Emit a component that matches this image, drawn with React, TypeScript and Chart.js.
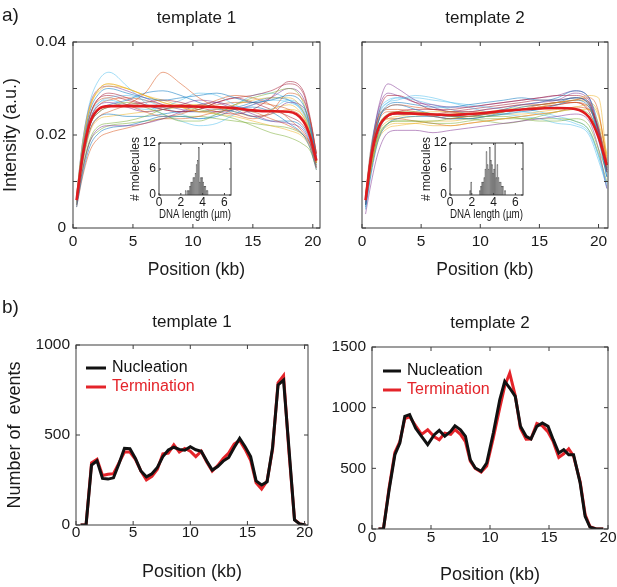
import React, { useEffect, useRef } from 'react';
import { Chart, registerables } from 'chart.js';

Chart.register(...registerables);

const FONT = "'Liberation Sans', Arial, Helvetica, sans-serif";
const TEXT = '#1a1a1a';
const FRAME = '#3c3c3c';
const MEAN_RED = '#e01b1f';
const EVENT_RED = '#e4242a';
const EVENT_BLACK = '#111111';
const MATLAB_COLORS = ['#0072BD', '#D95319', '#EDB120', '#7E2F8E', '#77AC30', '#4DBEEE', '#A2142F'];

// ---------- panel a: intensity profiles (values in units of 0.001 a.u.) ----------
const traceXTpl1 = [0.3, 0.8, 1.4, 2.2, 3, 4.5, 6, 7.5, 9, 10.5, 12, 13.5, 15, 16.5, 18, 19.2, 19.8, 20.3];
const meanTpl1 = [6, 15.5, 22.5, 25.7, 26.2, 26.2, 26.2, 26.2, 26.2, 26.1, 26, 25.8, 25.3, 25.1, 25, 23, 19.5, 14.5];
const tracesTpl1 = [
  [6, 17, 25, 29, 30, 29, 28, 27.5, 28, 28.5, 29, 28, 27, 27.5, 28.5, 26.5, 22, 15],
  [6.5, 15, 21, 24, 25, 26.5, 29, 33.5, 31, 28, 26, 24.5, 23.5, 25, 29, 27.5, 23, 16],
  [7, 18, 26, 29.5, 30.5, 30, 28.5, 27, 26, 25, 25.5, 26.5, 27.5, 28, 28, 25, 20, 14],
  [5, 12.5, 18.5, 21.5, 22, 22, 22.5, 23.5, 25, 26.5, 27, 26, 24.5, 23, 22.5, 21, 18, 13],
  [6, 15, 22, 25, 26, 27, 26, 24.5, 23, 23, 24.5, 26.5, 28, 29, 30, 27, 21, 14.5],
  [7, 18.5, 27, 32, 33.5, 30.5, 27, 24.5, 23, 22, 22.5, 24.5, 26.5, 27.5, 27, 25, 21, 15],
  [6, 15, 22, 25, 26, 26.5, 27, 27.5, 27, 26, 25, 24.5, 25.5, 28, 31.5, 29.5, 23.5, 16],
  [4.5, 11.5, 17.5, 20.5, 21.5, 22, 23, 24, 24, 23.5, 24, 25.5, 26, 25, 22.5, 20, 17, 12.5],
  [6, 16, 24, 27.5, 28, 26.5, 25, 24, 24.5, 26, 27.5, 28.5, 28, 26.5, 23.5, 20.5, 18, 14],
  [6.5, 17, 25.5, 30, 31, 30, 28.5, 27, 26, 25, 24.5, 24, 23, 22, 21, 19.5, 17, 12.5],
  [6, 15.5, 23, 26.5, 27, 26, 25, 25.5, 26.5, 27.5, 27, 25.5, 24, 24.5, 27, 26, 21.5, 15],
  [5, 12.5, 19, 22, 22.5, 23, 24, 25.5, 26, 25.5, 24.5, 23.5, 22, 20.5, 19.5, 18, 16.5, 13],
  [6.5, 16.5, 24, 27, 27.5, 26.5, 25.5, 26, 27.5, 29, 28.5, 26.5, 25, 25.5, 27.5, 25.5, 21, 15],
  [6, 16, 24, 28, 29, 28, 26.5, 25.5, 25, 25.5, 27, 28, 28.5, 29.5, 31, 29, 23, 16],
  [6, 15, 22, 25.5, 26.5, 27.5, 29, 29.5, 28.5, 27, 26, 26, 27, 28, 27.5, 25, 21, 14.5],
  [4.5, 11, 16.5, 19.5, 20.5, 21.5, 22.5, 23.5, 23.5, 24, 25, 25.5, 25, 23.5, 22, 20, 17.5, 13],
  [7, 18, 26, 30, 31, 30, 28.5, 27.5, 26.5, 26.5, 26, 25.5, 25, 25.5, 26.5, 24, 20, 14],
  [7, 18.5, 26.5, 30, 30.5, 29.5, 28, 26.5, 25.5, 25, 25, 25.5, 26.5, 28, 30, 28, 22.5, 15.5],
  [5, 12.5, 18.5, 21, 22, 22.5, 23, 23.5, 24, 24, 23.5, 23, 22.5, 22, 21.5, 20, 18, 13.5],
  [6, 15, 23, 27, 28, 28.5, 27.5, 26, 24.5, 23.5, 24.5, 26.5, 28.5, 29, 27.5, 24.5, 20, 14],
  [6.5, 16, 24, 28, 28.5, 27.5, 26.5, 25.5, 25, 25.5, 27, 28, 27, 25.5, 24, 22, 19, 14],
  [5.5, 14, 21, 24, 24.5, 24, 24, 24.5, 25, 25, 25.5, 25, 24, 23, 23, 21.5, 18.5, 13.5],
  [6, 15.5, 23, 26.5, 27.5, 28, 27.5, 26.5, 26, 26, 26.5, 27, 27, 26.5, 25.5, 23.5, 20, 14.5],
  [5.5, 13.5, 20.5, 23.5, 24, 24.5, 25, 25.5, 26, 26.5, 26, 25, 24, 24.5, 25.5, 24, 20, 14],
];

const traceXTpl2 = [0.3, 0.8, 1.4, 2.2, 3, 4.5, 6, 7.5, 9, 10.5, 12, 13.5, 15, 16.5, 18, 19.2, 20, 20.7];
const meanTpl2 = [6, 15.5, 21.5, 24.2, 24.7, 24.6, 24.4, 24.3, 24.5, 24.8, 25.2, 25.5, 25.7, 25.8, 25.6, 23.8, 19.5, 13.5];
const tracesTpl2 = [
  [5, 15, 23, 26.5, 27, 26.5, 26, 26, 26.5, 27, 27.5, 28, 27.5, 27.5, 28, 26.5, 19, 11],
  [7, 17, 23, 25, 25, 24.5, 24, 23.5, 24, 24.5, 25, 25.5, 26.5, 27, 27.5, 28, 25, 14],
  [6, 15, 21.5, 23.5, 24, 24.5, 25, 25, 24.5, 24.5, 25, 25.5, 26, 27, 27.5, 28.5, 28, 15],
  [5.5, 17, 26, 31, 30, 27.5, 26, 25, 25, 25.5, 26, 26.5, 27, 27.5, 29, 27.5, 21, 12],
  [6, 14, 20, 22.5, 23, 23, 23, 23.5, 24, 24, 24, 23.5, 23, 23, 23.5, 22, 17, 12],
  [6.5, 18, 25, 27.5, 28, 28, 27.5, 27, 26.5, 26, 25.5, 25, 24.5, 23.5, 22.5, 20.5, 15.5, 9.5],
  [5, 16, 24.5, 28.5, 28.5, 27, 25.5, 25.5, 26, 26.5, 27, 27.5, 28, 28.5, 28.5, 27, 20.5, 12],
  [4, 12, 19, 22.5, 23.5, 24, 24, 23.5, 23.5, 24, 24.5, 25, 25.5, 26.5, 27.5, 26, 20, 12],
  [7.5, 18, 24, 26, 26.5, 26, 25.5, 25, 25, 25.5, 26, 26.5, 26.5, 27, 27, 25.5, 21.5, 14],
  [6, 13.5, 19.5, 22, 22.5, 22.5, 22, 22, 22.5, 23, 23.5, 24, 24.5, 25, 25.5, 25.5, 22.5, 15.5],
  [3, 10, 16.5, 20.5, 21, 21, 20.5, 21, 21.5, 22, 22.5, 23, 23.5, 24, 24.5, 23, 17, 8.5],
  [6, 15.5, 22, 24.5, 25, 25, 24.5, 24, 23.5, 23, 22.5, 23, 24, 25, 25.5, 24.5, 20, 13],
  [5.5, 17, 24.5, 27, 27.5, 28.5, 28, 27, 26, 25, 24.5, 24, 23.5, 22.5, 22, 20, 14.5, 9],
  [6.5, 15, 21.5, 24, 24.5, 24.5, 24.5, 25, 25.5, 26, 26.5, 27, 27.5, 27.5, 28, 26.5, 21, 13],
  [5, 15, 23, 26, 26.5, 25.5, 24.5, 24, 24, 24.5, 25.5, 26.5, 27, 28, 29.5, 28, 22, 12.5],
  [6.5, 17, 23.5, 25.5, 25.5, 25, 24.5, 24, 24, 24.5, 25, 25.5, 26, 26.5, 27, 26, 21.5, 14.5],
  [5.5, 13, 19, 21.5, 22, 22.5, 23, 23, 23.5, 24, 24.5, 24.5, 25, 25.5, 26, 26.5, 24, 16],
  [6, 17, 25.5, 29, 28.5, 27, 26.5, 26, 26, 26.5, 27, 27.5, 28, 28.5, 29.5, 28, 21, 12.5],
  [5, 13, 19.5, 22.5, 23, 23, 22.5, 22.5, 23, 23.5, 23.5, 23.5, 23.5, 23.5, 23, 21, 16, 10],
  [6, 16, 24, 27, 28, 27.5, 26.5, 25.5, 24.5, 24, 24.5, 25.5, 25, 24, 23, 21, 15.5, 8.5],
  [6, 15, 21.5, 24, 25, 25.5, 25.5, 25, 24.5, 24.5, 25, 25.5, 26, 26.5, 27, 25, 19.5, 12.5],
  [4.5, 13, 20.5, 24, 24.5, 24.5, 24, 23.5, 23.5, 24, 25, 26, 26.5, 27, 28, 27, 20, 11],
  [7, 16.5, 22, 23.5, 23.5, 23, 22.5, 22, 22.5, 23, 23.5, 24, 24.5, 25, 26, 25.5, 21, 13.5],
  [6.5, 14.5, 20.5, 23, 23.5, 24, 24.5, 24.5, 25, 25, 25.5, 26, 26.5, 27, 27.5, 27, 24.5, 14.5],
];

const intensityTickLabels = ['0', '', '0.02', '', '0.04'];
const positionTickLabels = ['0', '5', '10', '15', '20'];

// ---------- insets: DNA length histograms ----------
const hist1Bins = [2.45, 2.55, 2.65, 2.75, 2.85, 2.95, 3.05, 3.15, 3.25, 3.35, 3.45, 3.55, 3.65, 3.75, 3.85, 3.95, 4.05, 4.15, 4.25, 4.35, 4.45, 4.55];
const hist1Counts = [1, 0, 1, 1, 2, 3, 3, 4, 4, 5, 7, 8, 11, 3, 4, 4, 3, 2, 2, 1, 1, 0];
const hist2Bins = [1.85, 1.95, 2.05, 2.15, 2.25, 2.35, 2.45, 2.55, 2.65, 2.75, 2.85, 2.95, 3.05, 3.15, 3.25, 3.35, 3.45, 3.55, 3.65, 3.75, 3.85, 3.95, 4.05, 4.15, 4.25, 4.35, 4.45, 4.55, 4.65, 4.75, 4.85, 4.95, 5.05, 5.15];
const hist2Counts = [1, 3, 0, 0, 0, 0, 0, 0, 0, 1, 2, 3, 3, 4, 6, 10, 7, 6, 11, 8, 7, 5, 6, 12, 4, 7, 4, 3, 3, 2, 2, 0, 1, 0];
const lengthTickLabels = ['0', '2', '4', '6'];
const moleculeTickLabels = ['0', '6', '12'];

// ---------- panel b: event counts ----------
const posTpl1 = [0.4, 0.88, 1.36, 1.84, 2.32, 2.8, 3.28, 3.76, 4.24, 4.72, 5.2, 5.68, 6.16, 6.64, 7.12, 7.6, 8.08, 8.56, 9.04, 9.52, 10.0, 10.48, 10.96, 11.44, 11.92, 12.4, 12.88, 13.36, 13.84, 14.32, 14.8, 15.28, 15.76, 16.24, 16.72, 17.2, 17.68, 18.16, 18.64, 19.12, 19.6, 20.08];
const nucleationTpl1 = [0, 0, 333, 357, 259, 255, 262, 340, 426, 424, 370, 300, 268, 285, 320, 380, 417, 432, 420, 415, 435, 418, 410, 355, 305, 325, 355, 375, 430, 481, 435, 380, 245, 222, 240, 430, 778, 805, 420, 28, 5, 0];
const terminationTpl1 = [0, 0, 345, 365, 275, 282, 285, 345, 405, 405, 365, 300, 250, 270, 310, 395, 400, 445, 405, 425, 410, 380, 410, 350, 300, 330, 370, 400, 450, 470, 420, 360, 235, 200, 245, 420, 790, 830, 400, 30, 5, 0];

const posTpl2 = [0.55, 0.97, 1.45, 1.94, 2.36, 2.78, 3.19, 3.7, 4.2, 4.72, 5.28, 5.7, 6.17, 6.67, 7.03, 7.5, 7.92, 8.33, 8.75, 9.25, 9.72, 10.28, 10.83, 11.25, 11.67, 12.14, 12.58, 13.06, 13.47, 13.97, 14.44, 14.92, 15.36, 15.83, 16.25, 16.67, 17.08, 17.64, 18.06, 18.47, 19.0, 19.6];
const nucleationTpl2 = [0, 0, 324, 612, 708, 928, 942, 830, 764, 695, 777, 813, 764, 805, 851, 818, 764, 571, 503, 475, 544, 791, 1066, 1217, 1162, 1093, 846, 764, 742, 846, 873, 846, 736, 626, 654, 612, 612, 379, 104, 16, 0, 0];
const terminationTpl2 = [0, 0, 340, 630, 720, 910, 925, 850, 780, 818, 760, 736, 790, 780, 820, 780, 720, 560, 500, 470, 520, 750, 1000, 1180, 1285, 1100, 830, 740, 742, 870, 850, 800, 720, 590, 620, 660, 600, 390, 120, 20, 0, 0];

const eventsTickLabels1 = ['0', '500', '1000'];
const eventsTickLabels2 = ['0', '500', '1000', '1500'];

// ---------- helpers ----------
function rgba(hex: string, a: number) {
  const n = parseInt(hex.slice(1), 16);
  return `rgba(${(n >> 16) & 255},${(n >> 8) & 255},${n & 255},${a})`;
}

function fixedBox(size: number, horizontal: boolean) {
  return (scale: any) => {
    if (horizontal) scale.height = size;
    else scale.width = size;
    scale.paddingLeft = 0;
    scale.paddingRight = 0;
    scale.paddingTop = 0;
    scale.paddingBottom = 0;
  };
}

const framePlugin = {
  id: 'frame',
  beforeDatasetsDraw(chart: any, _args: any, opts: any) {
    if (!opts || !opts.fill) return;
    const { ctx, chartArea: a } = chart;
    ctx.save();
    ctx.fillStyle = opts.fill;
    ctx.fillRect(a.left, a.top, a.right - a.left, a.bottom - a.top);
    ctx.restore();
  },
  afterDraw(chart: any, _args: any, opts: any) {
    const { ctx, chartArea: a } = chart;
    const len = (opts && opts.tickLen) || 4;
    ctx.save();
    ctx.strokeStyle = FRAME;
    ctx.lineWidth = 1;
    ctx.beginPath();
    const xs = chart.scales.x;
    const ys = chart.scales.y;
    xs.ticks.forEach((t: any) => {
      const p = xs.getPixelForValue(t.value);
      ctx.moveTo(p, a.bottom);
      ctx.lineTo(p, a.bottom - len);
      ctx.moveTo(p, a.top);
      ctx.lineTo(p, a.top + len);
    });
    ys.ticks.forEach((t: any) => {
      const p = ys.getPixelForValue(t.value);
      ctx.moveTo(a.left, p);
      ctx.lineTo(a.left + len, p);
      ctx.moveTo(a.right, p);
      ctx.lineTo(a.right - len, p);
    });
    ctx.stroke();
    ctx.strokeRect(a.left, a.top, a.right - a.left, a.bottom - a.top);
    ctx.restore();
  },
};

const lineLegendPlugin = {
  id: 'lineLegend',
  afterDraw(chart: any, _args: any, opts: any) {
    if (!opts || !opts.show) return;
    const { ctx, chartArea: a } = chart;
    ctx.save();
    ctx.font = `16px ${FONT}`;
    ctx.textBaseline = 'middle';
    ctx.textAlign = 'left';
    chart.data.datasets.forEach((ds: any, i: number) => {
      const x = a.left + opts.x;
      const y = a.top + opts.y + i * opts.row;
      ctx.strokeStyle = ds.borderColor;
      ctx.lineWidth = 3;
      ctx.beginPath();
      ctx.moveTo(x, y);
      ctx.lineTo(x + opts.len, y);
      ctx.stroke();
      ctx.fillStyle = ds.borderColor;
      ctx.fillText(ds.label, x + opts.len + opts.gap, y);
    });
    ctx.restore();
  },
};

function baseOptions(padRight: number, padTop = 0) {
  return {
    responsive: false,
    maintainAspectRatio: false,
    animation: false,
    events: [],
    layout: { padding: { left: 0, right: padRight, top: padTop, bottom: 0 } },
  };
}

const noGrid = { display: false, drawTicks: false };
const noBorder = { display: false };

function topTitleAxis(text: string, height: number, padTop: number, max: number) {
  return {
    type: 'linear',
    position: 'top',
    display: true,
    min: 0,
    max,
    grid: noGrid,
    border: noBorder,
    ticks: { display: false },
    title: { display: true, text, color: TEXT, font: { size: 17, family: FONT }, padding: { top: padTop, bottom: 0 } },
    afterFit: fixedBox(height, true),
  };
}

function profileConfig(xs: number[], traces: number[][], mean: number[], opts: any) {
  const pts = (vals: number[]) => vals.map((v, i) => ({ x: xs[i], y: v / 1000 }));
  const datasets: any[] = [
    { label: 'mean', data: pts(mean), borderColor: MEAN_RED, borderWidth: 2.6, pointRadius: 0, cubicInterpolationMode: 'monotone', order: 0 },
    ...traces.map((t, k) => ({
      label: `molecule ${k + 1}`,
      data: pts(t),
      borderColor: rgba(MATLAB_COLORS[k % MATLAB_COLORS.length], 0.65),
      borderWidth: 0.8,
      pointRadius: 0,
      cubicInterpolationMode: 'monotone',
      order: 1,
    })),
  ];
  return {
    type: 'line',
    data: { datasets },
    options: {
      ...baseOptions(opts.padRight),
      plugins: { legend: { display: false }, tooltip: { enabled: false }, frame: { tickLen: 4 } },
      scales: {
        x: {
          type: 'linear', position: 'bottom', min: 0, max: opts.xMax,
          grid: noGrid, border: noBorder,
          ticks: { stepSize: 5, includeBounds: false, autoSkip: false, maxRotation: 0, padding: 4, color: TEXT, font: { size: 15.5, family: FONT }, callback: (_v: any, i: number) => positionTickLabels[i] ?? '' },
          title: { display: true, text: 'Position (kb)', color: TEXT, font: { size: 17.5, family: FONT }, padding: { top: 0, bottom: 9.5 } },
          afterFit: fixedBox(62, true),
        },
        xTop: topTitleAxis(opts.title, 42, 8.3, opts.xMax),
        y: {
          type: 'linear', min: 0, max: 0.04,
          grid: noGrid, border: noBorder,
          ticks: { display: opts.yLabels, stepSize: 0.01, padding: 7, color: TEXT, font: { size: 15.5, family: FONT }, callback: (_v: any, i: number) => intensityTickLabels[i] ?? '' },
          title: { display: opts.yLabels, text: 'Intensity (a.u.)', color: TEXT, font: { size: 18, family: FONT }, padding: { top: 0, bottom: 0 } },
          afterFit: fixedBox(opts.yWidth, false),
        },
      },
    },
    plugins: [framePlugin],
  };
}

function histConfig(bins: number[], counts: number[], xMax: number) {
  return {
    type: 'bar',
    data: {
      datasets: [{
        label: 'molecules',
        data: bins.map((b, i) => ({ x: b, y: counts[i] })),
        backgroundColor: '#8a8a8a',
        borderColor: '#505050',
        borderWidth: 0.5,
        barPercentage: 1,
        categoryPercentage: 1,
      }],
    },
    options: {
      ...baseOptions(6, 7),
      plugins: { legend: { display: false }, tooltip: { enabled: false }, frame: { tickLen: 2, fill: '#ffffff' } },
      scales: {
        x: {
          type: 'linear', offset: false, min: 0, max: xMax,
          grid: noGrid, border: noBorder,
          ticks: { stepSize: 2, includeBounds: false, autoSkip: false, maxRotation: 0, padding: 0, color: TEXT, font: { size: 12, family: FONT }, callback: (_v: any, i: number) => lengthTickLabels[i] ?? '' },
          title: { display: true, text: 'DNA length (µm)', color: TEXT, font: { size: 12, family: FONT }, padding: { top: 0, bottom: 3.8 } },
          afterFit: fixedBox(31, true),
        },
        y: {
          type: 'linear', min: 0, max: 12,
          grid: noGrid, border: noBorder,
          ticks: { stepSize: 6, padding: 3, color: TEXT, font: { size: 12, family: FONT }, callback: (_v: any, i: number) => moleculeTickLabels[i] ?? '' },
          title: { display: true, text: '# molecules', color: TEXT, font: { size: 12, family: FONT }, padding: { top: 3.2, bottom: 0 } },
          afterFit: fixedBox(34, false),
        },
      },
    },
    plugins: [framePlugin],
  };
}

function eventsConfig(pos: number[], nuc: number[], term: number[], opts: any) {
  const pts = (vals: number[]) => vals.map((v, i) => ({ x: pos[i], y: v }));
  return {
    type: 'line',
    data: {
      datasets: [
        { label: 'Nucleation', data: pts(nuc), borderColor: EVENT_BLACK, borderWidth: 3, pointRadius: 0, tension: 0 },
        { label: 'Termination', data: pts(term), borderColor: EVENT_RED, borderWidth: 3, pointRadius: 0, tension: 0 },
      ],
    },
    options: {
      ...baseOptions(opts.padRight),
      plugins: {
        legend: { display: false }, tooltip: { enabled: false },
        frame: { tickLen: 4 },
        lineLegend: { show: true, ...opts.legend },
      },
      scales: {
        x: {
          type: 'linear', position: 'bottom', min: 0, max: opts.xMax,
          grid: noGrid, border: noBorder,
          ticks: { stepSize: 5, includeBounds: false, autoSkip: false, maxRotation: 0, padding: opts.xTickPad, color: TEXT, font: { size: 15.5, family: FONT }, callback: (_v: any, i: number) => positionTickLabels[i] ?? '' },
          title: { display: true, text: 'Position (kb)', color: TEXT, font: { size: 18, family: FONT }, padding: { top: 0, bottom: opts.xTitlePad } },
          afterFit: fixedBox(opts.xHeight, true),
        },
        xTop: topTitleAxis(opts.title, opts.topHeight, opts.titlePad, opts.xMax),
        y: {
          type: 'linear', min: 0, max: opts.yMax,
          grid: noGrid, border: noBorder,
          ticks: { stepSize: 500, padding: 6, color: TEXT, font: { size: 15.5, family: FONT }, callback: (_v: any, i: number) => opts.yLabels[i] ?? '' },
          title: { display: opts.yTitle, text: 'Number of  events', color: TEXT, font: { size: 18, family: FONT }, padding: { top: 4.2, bottom: 0 } },
          afterFit: fixedBox(opts.yWidth, false),
        },
      },
    },
    plugins: [framePlugin, lineLegendPlugin],
  };
}

function ChartCanvas(props: { left: number; top: number; width: number; height: number; make: () => any }) {
  const ref = useRef<HTMLCanvasElement>(null);
  useEffect(() => {
    if (!ref.current) return;
    const chart = new Chart(ref.current, props.make());
    return () => chart.destroy();
  }, []);
  return (
    <canvas
      ref={ref}
      width={props.width}
      height={props.height}
      style={{ position: 'absolute', left: props.left, top: props.top, width: props.width, height: props.height }}
    />
  );
}

const panelLabelStyle: any = {
  position: 'absolute',
  fontFamily: FONT,
  fontSize: 19,
  lineHeight: 1,
  color: TEXT,
  left: 2,
};

export default function App() {
  Chart.defaults.font.family = FONT;
  Chart.defaults.color = TEXT;
  return (
    <div style={{ position: 'absolute', left: 0, top: 0, width: 617, height: 587, background: '#ffffff', overflow: 'hidden' }}>
      <ChartCanvas left={0} top={0} width={330} height={290}
        make={() => profileConfig(traceXTpl1, tracesTpl1, meanTpl1, { padRight: 10, xMax: 20.6, title: 'template 1', yLabels: true, yWidth: 73 })} />
      <ChartCanvas left={330} top={0} width={287} height={290}
        make={() => profileConfig(traceXTpl2, tracesTpl2, meanTpl2, { padRight: 9, xMax: 20.8, title: 'template 2', yLabels: false, yWidth: 32 })} />
      <ChartCanvas left={125} top={136} width={112} height={90} make={() => histConfig(hist1Bins, hist1Counts, 6.6)} />
      <ChartCanvas left={416} top={136} width={113} height={90} make={() => histConfig(hist2Bins, hist2Counts, 6.7)} />
      <ChartCanvas left={0} top={290} width={320} height={297}
        make={() => eventsConfig(posTpl1, nucleationTpl1, terminationTpl1, {
          padRight: 12, xMax: 20.3, yMax: 1000, yLabels: eventsTickLabels1, yTitle: true, yWidth: 76,
          xHeight: 62, xTickPad: -2, xTitlePad: 4.6, topHeight: 55, titlePad: 21.8, title: 'template 1',
          legend: { x: 10, y: 23, row: 19, len: 20, gap: 6 },
        })} />
      <ChartCanvas left={320} top={290} width={297} height={297}
        make={() => eventsConfig(posTpl2, nucleationTpl2, terminationTpl2, {
          padRight: 9, xMax: 20, yMax: 1500, yLabels: eventsTickLabels2, yTitle: false, yWidth: 52,
          xHeight: 58, xTickPad: -1, xTitlePad: 1.3, topHeight: 57, titlePad: 22.8, title: 'template 2',
          legend: { x: 11, y: 24, row: 19, len: 18, gap: 6 },
        })} />
      <div style={{ ...panelLabelStyle, top: 5 }}>a)</div>
      <div style={{ ...panelLabelStyle, top: 297 }}>b)</div>
    </div>
  );
}
